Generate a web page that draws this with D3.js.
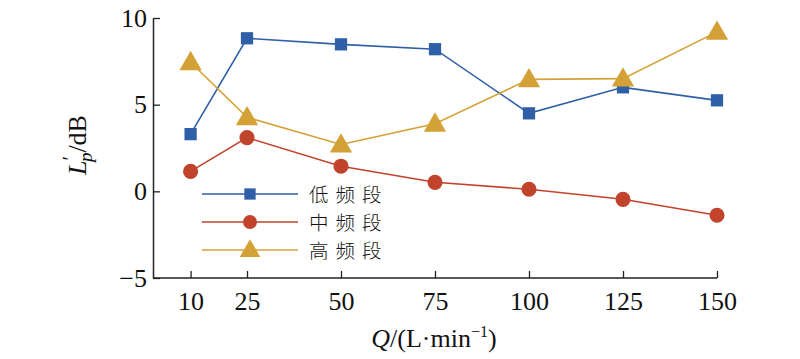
<!DOCTYPE html>
<html><head><meta charset="utf-8">
<script src="https://cdn.jsdelivr.net/npm/d3@7"></script>
<style>body{margin:0;background:#fff}</style>
</head><body>
<svg id="c" width="800" height="359"></svg>
<script>
const flows = [10, 25, 50, 75, 100, 125, 150];
const lowBand = [3.3, 8.83, 8.48, 8.2, 4.5, 6.0, 5.25];
const midBand = [1.15, 3.1, 1.45, 0.52, 0.12, -0.46, -1.38];
const highBand = [7.45, 4.27, 2.7, 3.9, 6.46, 6.5, 9.2];
const seriesNames = ["低频段", "中频段", "高频段"];
const yTicks = [-5, 0, 5, 10];

const svg = d3.select("#c");
const serif = "'Liberation Serif','DejaVu Serif',serif";
const x = d3.scaleLinear().domain([0, 150]).range([153, 717]);
const y = d3.scaleLinear().domain([-5, 10]).range([278, 18]);

const colors = ["#2f5fa7", "#c2432b", "#d4a137"];
const symbols = [d3.symbolSquare, d3.symbolCircle, d3.symbolTriangle];
const sizes = [150, 180, 215];

// axes
const gx = svg.append("g").attr("transform", "translate(0,278)")
  .call(d3.axisBottom(x).tickValues(flows).tickSize(-7).tickSizeOuter(0).tickPadding(14));
const gy = svg.append("g").attr("transform", "translate(153,0)")
  .call(d3.axisLeft(y).tickValues(yTicks).tickSize(-7).tickSizeOuter(0).tickPadding(6)
    .tickFormat(d => d < 0 ? "\u2212" + Math.abs(d) : d));
[gx, gy].forEach(g => {
  g.selectAll(".domain").attr("stroke", "#222").attr("stroke-width", 1.5);
  g.selectAll(".tick line").attr("stroke", "#222").attr("stroke-width", 1.3);
  g.selectAll("text").attr("font-family", serif).attr("font-size", 26).attr("fill", "#111");
});
gx.select(".domain").attr("d", `M${153},0H${x(150)}`);

const all = [lowBand, midBand, highBand];
const line = d3.line().x((d, i) => x(flows[i])).y(d => y(d));
all.forEach((vals, k) => {
  svg.append("path").attr("d", line(vals)).attr("fill", "none")
    .attr("stroke", colors[k]).attr("stroke-width", 1.6);
  svg.selectAll(null).data(vals).enter().append("path")
    .attr("d", d3.symbol().type(symbols[k]).size(sizes[k]))
    .attr("transform", (d, i) => `translate(${x(flows[i])},${y(d) + (k === 2 ? 1.5 : 0)})`)
    .attr("fill", colors[k]);
});

// legend
const lg = svg.append("g");
seriesNames.forEach((n, k) => {
  const ly = 194 + k * 28;
  lg.append("line").attr("x1", 202).attr("x2", 298).attr("y1", ly).attr("y2", ly)
    .attr("stroke", colors[k]).attr("stroke-width", 1.6);
  lg.append("path").attr("d", d3.symbol().type(symbols[k]).size(sizes[k] * 0.85)())
    .attr("transform", `translate(250,${ly + (k === 2 ? 1 : 0)})`).attr("fill", colors[k]);
  lg.append("text").attr("x", 309).attr("y", ly + 7.5).text(n)
    .attr("font-family", "'Noto Sans CJK SC',sans-serif").attr("font-size", 19.5)
    .attr("letter-spacing", 7).attr("font-weight", 300).attr("fill", "#111");
});

// y label
const yl = svg.append("text").attr("transform", "translate(86,145) rotate(-90)")
  .attr("text-anchor", "middle").attr("font-family", serif).attr("font-size", 26).attr("fill", "#111");
yl.append("tspan").attr("font-style", "italic").text("L");
yl.append("tspan").attr("dy", -9).attr("font-size", 20).text("\u2032");
yl.append("tspan").attr("dy", 15).attr("dx", -6).attr("font-style", "italic").attr("font-size", 19).text("p");
yl.append("tspan").attr("dy", -6).text("/dB");

// x label
const xl = svg.append("text").attr("x", 434).attr("y", 347)
  .attr("text-anchor", "middle").attr("font-family", serif).attr("font-size", 26).attr("fill", "#111");
xl.append("tspan").attr("font-style", "italic").text("Q");
xl.append("tspan").text("/(L\u00b7min");
xl.append("tspan").attr("dy", -10).attr("font-size", 16).text("\u22121");
xl.append("tspan").attr("dy", 10).text(")");
</script>
</body></html>
